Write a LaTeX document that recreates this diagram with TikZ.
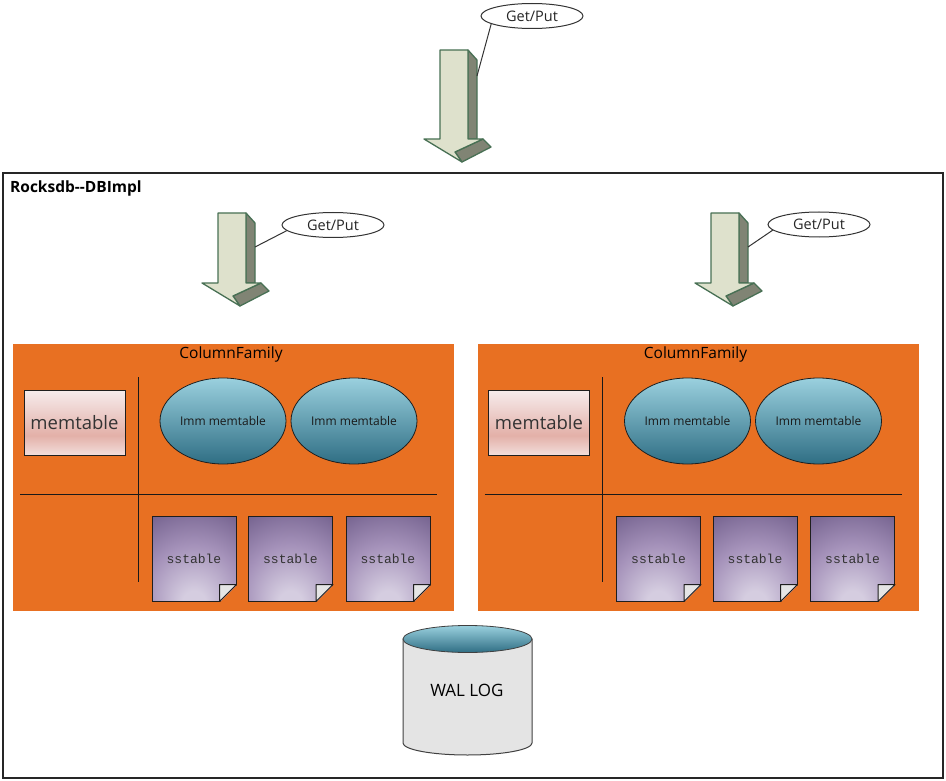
\documentclass[tikz,border=0pt]{standalone}
\usepackage{fontspec}
\setmainfont{Open Sans}
\newfontfamily\sstablefont{Liberation Mono}
\usepackage{tikz}
\usetikzlibrary{calc, shapes.geometric, positioning}
\definecolor{orangefam}{RGB}{232,112,34}
\definecolor{arrowface}{RGB}{222,225,204}
\definecolor{arrowside}{RGB}{128,132,116}
\definecolor{arrowline}{RGB}{72,112,84}
\definecolor{cellline}{RGB}{30,30,30}
\definecolor{memtop}{RGB}{246,236,236}
\definecolor{memmid}{RGB}{227,176,168}
\definecolor{membot}{RGB}{242,222,219}
\definecolor{immtop}{RGB}{154,208,222}
\definecolor{immmid}{RGB}{87,170,194}
\definecolor{immbot}{RGB}{47,110,132}
\definecolor{walgray}{RGB}{228,228,228}
\definecolor{ssinner}{RGB}{213,205,224}
\definecolor{ssmid}{RGB}{165,146,186}
\definecolor{ssouter}{RGB}{100,82,128}
\pgfdeclareradialshading{sstableshade}{\pgfpoint{0bp}{-28bp}}{color(0bp)=(ssinner); color(7bp)=(ssinner); color(28bp)=(ssmid); color(54bp)=(ssouter); color(100bp)=(ssouter)}
\pgfdeclareverticalshading{memshade}{100bp}{color(0bp)=(membot); color(25bp)=(membot); color(40bp)=(memmid); color(75bp)=(memtop); color(100bp)=(memtop)}
\tikzset{
  memcell/.style={draw=cellline, line width=1pt, minimum width=101pt, minimum height=65pt, inner sep=0pt, shading=memshade, font=\fontsize{18.5}{18.5}\selectfont, text=black!80},
  immcell/.style={draw=cellline, line width=0.8pt, ellipse, minimum width=126pt, minimum height=86pt, inner sep=0pt, top color=immtop, middle color=immmid, bottom color=immbot, font=\fontsize{12}{12}\selectfont, text=black!90},
  sscell/.style={draw=cellline, line width=1pt, minimum width=84pt, minimum height=85pt, inner sep=0pt, shading=sstableshade, font=\sstablefont\fontsize{13}{13}\selectfont, text=black!80},
  callout/.style={draw=black!80, line width=1pt, fill=white, ellipse, minimum width=102pt, minimum height=25pt, inner sep=0pt, font=\fontsize{14.5}{14.5}\selectfont, text=black!85},
  famline/.style={draw=black!90, line width=1pt},
}
% block arrow, origin at the top left of the shaft
\newcommand\getarrow[5]{\begin{scope}[shift={(#2,#3)}]
\fill[arrowside, draw=arrowline, line width=1.3pt, line join=round] (28,0) -- (37,10) -- (37,#4) -- (28,#4) -- cycle;
\fill[arrowside, draw=arrowline, line width=1.3pt, line join=round] (15,{#4+13}) -- (43,#4) -- (51,{#4+8}) -- (22,{#4+23}) -- cycle;
\fill[arrowface, draw=arrowline, line width=1.3pt, line join=round] (0,0) -- (28,0) -- (28,#4) -- (43,#4) -- (15,{#4+13}) -- (22,{#4+23}) -- (-16,#4) -- (0,#4) -- cycle;
\coordinate (#1) at (37,#5);
\end{scope}}
\newcommand\family[2]{\begin{scope}[shift={(#2,0)}]
\fill[orangefam] (13,344) rectangle (454,611);
\node (#1-title) at (231,354) {\fontsize{15.5}{15.5}\selectfont ColumnFamily};
\draw[famline] (138,377) -- (138,582);
\draw[famline] (20,494) -- (437,494);
\node[memcell] (#1-mem) at (74.5,422.5) {memtable};
\node[immcell] (#1-imma) at (223,421) {Imm memtable};
\node[immcell] (#1-immb) at (354,421) {Imm memtable};
\sstable{#1-ssa}{194}
\sstable{#1-ssb}{290.5}
\sstable{#1-ssc}{388}
\end{scope}}
\newcommand\sstable[2]{\node[sscell] (#1) at (#2,558.5) {sstable};
\fill[orangefam] ($(#1.south east)+(-17,1)$) -- ($(#1.south east)+(1,-17)$) -- ($(#1.south east)+(1,1)$) -- cycle;
\fill[white!90!black, draw=cellline, line width=1pt, line join=round] ($(#1.south east)+(-17,0)$) -- ($(#1.south east)+(-17,-17)$) -- ($(#1.south east)+(0,-17)$) -- cycle;}

\begin{document}
\begin{tikzpicture}[x=1pt,y=-1pt]
\useasboundingbox (0,0) rectangle (946,781);
\draw[line width=1.2pt, draw=black!85] (3,173) rectangle (943,778);
\node[anchor=west, inner sep=0pt] (dbimpl) at (10,188) {\fontsize{15.5}{15.5}\selectfont\bfseries Rocksdb-{}-DBImpl};

\getarrow{topside}{440}{50}{89}{26}
\getarrow{leftside}{218}{213}{70}{34}
\getarrow{rightside}{711}{213}{70}{34}
\node[callout] (topget) at (532,16) {Get/Put};
\node[callout] (leftget) at (333,225) {Get/Put};
\node[callout] (rightget) at (819,224.5) {Get/Put};
\draw[black!80, line width=1pt] (topget.191) -- (topside);
\draw[black!80, line width=1pt] (leftget.187) -- (leftside);
\draw[black!80, line width=1pt] (rightget.187) -- (rightside);

\family{famleft}{0}
\family{famright}{464.5}

% WAL cylinder
\fill[walgray, draw=black!75, line width=1pt] (403,639) -- (403,743) arc[start angle=180, end angle=360, x radius=64.5, y radius=-12] -- (532,639) -- cycle;
\node[ellipse, draw=black!75, line width=0.8pt, minimum width=129pt, minimum height=27pt, inner sep=0pt, top color=immtop, middle color=immmid, bottom color=immbot] (waltop) at (467.5,639) {};
\node (wallog) at (467,690) {\fontsize{17}{17}\selectfont WAL LOG};
\end{tikzpicture}
\end{document}
